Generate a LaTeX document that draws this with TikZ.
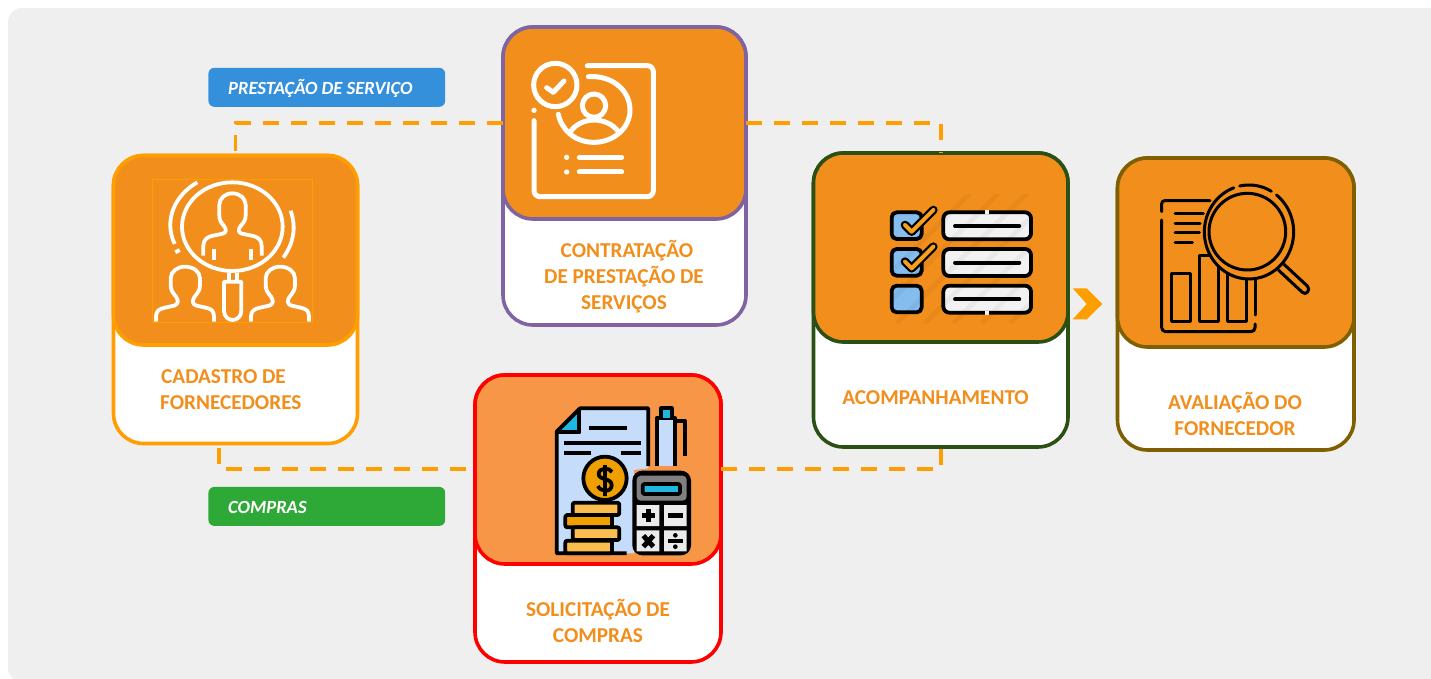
\documentclass[tikz,border=0pt]{standalone}
\usepackage{fontspec}
\setmainfont{Carlito}
\definecolor{heador}{HTML}{F28E1C}
\definecolor{headred}{HTML}{F79646}
\definecolor{linkor}{HTML}{FF9E00}
\definecolor{txtor}{HTML}{F28E1C}
\definecolor{bgc}{HTML}{EFEFEF}
\definecolor{docb}{HTML}{C5DCFB}
\definecolor{cyanx}{HTML}{1FB6DF}
\definecolor{coinA}{HTML}{EFA000}
\definecolor{coinB}{HTML}{F9BE4F}
\definecolor{purpl}{HTML}{8064A2}
\definecolor{greenl}{HTML}{2B5014}
\definecolor{brownl}{HTML}{7F6000}
\definecolor{tagblue}{HTML}{3590DC}
\definecolor{taggreen}{HTML}{2EA836}
\definecolor{boxblue}{HTML}{85BDEF}
\definecolor{checkor}{HTML}{F9A11B}
\tikzset{
 card/.style={draw=#1,fill=white,line width=3.6pt,rounded corners=30pt,inner sep=0pt,outer sep=0pt},
 head/.style={draw=#1,fill=heador,line width=3.6pt,rounded corners=30pt,inner sep=0pt,outer sep=0pt},
 capt/.style={text=txtor,font=\fontsize{21.2}{26}\selectfont\bfseries,align=center,inner sep=0pt},
 tag/.style={rounded corners=6pt,minimum width=236.8pt,minimum height=39pt,inner sep=0pt,outer sep=0pt},
 tagtext/.style={anchor=west,text=white,font=\fontsize{18.6}{20}\selectfont\bfseries\itshape,inner sep=0pt},
 linkline/.style={draw=linkor,line width=3.8pt,dash pattern=on 16pt off 12pt},
 iw/.style={draw=white,line width=#1,line cap=round,line join=round},
 ib/.style={draw=black,line width=#1,line join=round},
}
\begin{document}
\begin{tikzpicture}[x=1pt,y=-1pt]
\useasboundingbox (0,0) rectangle (1431,679);
\fill[bgc,rounded corners=14pt] (8,8) rectangle (1460,682);
\fill[bgc] (300,600) rectangle (1431,679);

% tags
\node[tag,fill=tagblue] (tagA) at (326.8,87.3) {};
\node[tagtext] (tagAt) at (228,88) {PRESTAÇÃO DE SERVIÇO};
\node[tag,fill=taggreen] (tagB) at (326.8,506.4) {};
\node[tagtext] (tagBt) at (228,507) {COMPRAS};

% cards
\node[card=linkor,minimum width=244pt,minimum height=288pt] (c1) at (235.5,299.5) {};
\node[head=linkor,minimum width=244pt,minimum height=189.5pt] (c1h) at (235.5,250.25) {};
\node[card=purpl,minimum width=243pt,minimum height=298pt] (c2) at (624.5,176) {};
\node[head=purpl,minimum width=243pt,minimum height=192pt] (c2h) at (624.5,123) {};
\node[card=red,minimum width=246pt,minimum height=287pt] (c3) at (598,518.5) {};
\node[head=red,fill=headred,minimum width=246pt,minimum height=189pt] (c3h) at (598,469.5) {};
\node[card=greenl,minimum width=254.5pt,minimum height=294pt] (c4) at (940.75,300) {};
\node[head=greenl,minimum width=254.5pt,minimum height=189pt] (c4h) at (940.75,247.5) {};
\node[card=brownl,minimum width=236.5pt,minimum height=292pt] (c5) at (1235.75,304) {};
\node[head=brownl,minimum width=236.5pt,minimum height=189pt] (c5h) at (1235.75,252.5) {};

% connectors
\draw[linkline] ([yshift=53pt]c2.west) -| (c1h.north);
\draw[linkline] ([yshift=53pt]c2.east) -| (c4h.north);
\draw[linkline,dash phase=19pt] ([yshift=49.5pt]c3.west) -| ([xshift=-16.5pt]c1.south);
\draw[linkline] ([yshift=49.5pt]c3.east) -| (c4.south);

% captions
\node[capt,align=left,anchor=west] (t1) at (160,390) {\hspace*{1pt}CADASTRO DE\\FORNECEDORES};
\node[capt] (t2) at (624,277) {\hspace*{6pt}CONTRATAÇÃO\\DE PRESTAÇÃO DE\\SERVIÇOS};
\node[capt] (t3) at (598,621) {SOLICITAÇÃO DE\\COMPRAS};
\node[capt] (t4) at (935.5,398) {ACOMPANHAMENTO};
\node[capt] (t5) at (1235,414) {AVALIAÇÃO DO\\FORNECEDOR};

% chevron
\fill[linkor] (1072.7,288.3) -- (1086.7,288.3) -- (1102.3,304) -- (1086.7,319.3) -- (1072.7,319.3) -- (1086.7,304) -- cycle;

% icon 1
\begin{scope}[shift={(100,140)},scale=1/3]
\draw[linkor,line width=1pt] (157,118) rectangle (638,548);
\draw[iw=3.8pt] (397,260) ellipse[x radius=151,y radius=133];
\draw[iw=3.8pt,line cap=butt] (310,347) -- (310,318) .. controls (310,300) and (320,292) .. (335,288) -- (368,281) .. controls (380,278) and (380,268) .. (372,258) .. controls (362,246) and (358,240) .. (358,225) -- (358,195) .. controls (358,175) and (375,160) .. (397,160) .. controls (420,160) and (437,175) .. (437,195) -- (437,225) .. controls (437,240) and (432,246) .. (422,258) .. controls (414,268) and (414,278) .. (426,281) -- (460,288) .. controls (475,292) and (485,300) .. (485,318) -- (485,347);
\draw[iw=3.8pt,line cap=butt] (342,326) -- (342,360) (454,326) -- (454,360);
\foreach \dx in {0,285}{
\begin{scope}[shift={(\dx,0)}]
\draw[iw=3.8pt,line cap=butt] (168,545) -- (168,530) .. controls (168,512) and (178,507) .. (195,503) -- (222,497) .. controls (236,493) and (236,482) .. (228,470) .. controls (216,455) and (212,450) .. (212,432) -- (212,415) .. controls (212,395) and (232,380) .. (255,380) .. controls (280,380) and (300,395) .. (300,415) -- (300,432) .. controls (300,450) and (296,455) .. (284,470) .. controls (276,482) and (276,493) .. (290,497) -- (317,503) .. controls (334,507) and (342,512) .. (342,530) -- (342,545);
\end{scope}
}
\draw[iw=3.8pt] (372,425) -- (424,425) (372,425) -- (372,512) .. controls (372,530) and (385,540) .. (398,540) .. controls (411,540) and (424,530) .. (424,512) -- (424,425);
\draw[iw=3.8pt,line cap=butt] (386,398) -- (386,422) (410,398) -- (410,422);
\draw[iw=3.8pt,line cap=butt] (292,127) .. controls (225,165) and (190,240) .. (224,312);
\draw[iw=3.8pt,line cap=butt] (226,337) -- (239,330);
\draw[iw=3.8pt,line cap=butt] (572,212) .. controls (590,265) and (580,310) .. (550,353);
\end{scope}

% icon 2
\begin{scope}[shift={(490,15)},scale=1/3]
\draw[iw=5pt] (196,210) circle[radius=65];
\draw[iw=5pt] (170,218) -- (190,232) -- (222,198);
\draw[iw=5pt,rounded corners=6pt] (292,152) -- (490,152) -- (490,545) -- (132,545) -- (132,317);
\fill[white] (132,286) circle[radius=8];
\draw[iw=5pt] (312,272) circle[radius=35];
\draw[iw=5pt] (295,185) .. controls (365,180) and (420,225) .. (420,285) .. controls (420,340) and (370,382) .. (312,382) .. controls (255,382) and (215,345) .. (205,298);
\draw[iw=5pt] (240,352) .. controls (255,328) and (285,315) .. (312,315) .. controls (340,315) and (370,328) .. (385,350);
\fill[white] (230,427) circle[radius=8] (230,471) circle[radius=8];
\draw[iw=5pt] (268,427) -- (395,427) (268,471) -- (395,471);
\end{scope}

% icon 3
\begin{scope}[shift={(530,390)},scale=1/3]
\fill[docb] (80,125) -- (150,55) -- (355,55) -- (355,235) -- (312,240) -- (312,490) -- (80,490) -- cycle;
\fill[cyanx] (85,122) -- (145,62) -- (145,122) -- cycle;
\draw[ib=3.8pt] (290,490) -- (80,490) -- (80,125) -- (150,55) -- (355,55) -- (355,228);
\draw[ib=3.8pt] (80,127) -- (148,127) -- (148,55);
\draw[ib=3.8pt] (177,115) -- (292,115) (102,160) -- (333,160) (102,190) -- (183,190) (272,190) -- (333,190);
\draw[ib=3.8pt,fill=coinA] (225,265) circle[radius=65];
\draw[ib=3.8pt] (246,246) .. controls (240,232) and (206,232) .. (206,252) .. controls (206,272) and (245,262) .. (245,286) .. controls (245,308) and (210,306) .. (204,288) (225,225) -- (225,318);
\draw[ib=3.8pt,fill=coinB,rounded corners=2pt] (128,338) rectangle (268,375);
\draw[ib=3.8pt,fill=coinA,rounded corners=2pt] (106,375) rectangle (246,412);
\draw[ib=3.8pt,fill=coinB,rounded corners=2pt] (128,412) rectangle (268,450);
\draw[ib=3.8pt,fill=coinB,rounded corners=2pt] (106,452) rectangle (246,490);
\draw[ib=3.8pt,fill=docb] (380,228) -- (380,85) -- (435,85) -- (435,228);
\draw[ib=3.8pt,fill=cyanx] (394,85) -- (394,55) -- (425,55) -- (425,85);
\draw[ib=3.8pt] (435,92) -- (465,92) -- (465,197);
\fill[black,rounded corners=10pt] (307,242) rectangle (483,496);
\fill[gray,rounded corners=4pt] (320,257) rectangle (470,332);
\draw[ib=3.8pt,fill=cyanx,rounded corners=2pt] (338,282) rectangle (450,312);
\fill[black!8] (320,345) rectangle (388,408) (402,345) rectangle (470,408) (320,421) rectangle (388,484) (402,421) rectangle (470,484);
\draw[line width=5pt] (335,377) -- (375,377) (355,357) -- (355,397);
\draw[line width=5pt] (415,377) -- (458,377);
\draw[line width=5pt] (340,437) -- (370,470) (370,437) -- (340,470);
\draw[line width=3.2pt] (415,453) -- (458,453);
\fill (436,436) circle[radius=7] (436,470) circle[radius=7];
\end{scope}

% icon 4
\begin{scope}[shift={(860,180)},scale=1/3]
\foreach \dy in {0,110,220}{
\draw[ib=3.8pt,fill=boxblue,rounded corners=5pt] (95,97+\dy) rectangle (185,177+\dy);
\draw[ib=3.8pt,fill=black!5,rounded corners=6pt] (250,97+\dy) rectangle (513,178+\dy);
\draw[ib=3.8pt,line cap=round] (285,138+\dy) -- (478,138+\dy);
}
\fill[black!5] (376,90) rectangle (388,102);
\fill[black!5] (376,392) rectangle (388,404);
\foreach \dy in {0,110}{
\draw[black,line width=8.6pt,line cap=round,line join=round] (135,135+\dy) -- (155,155+\dy) -- (220,90+\dy);
\draw[checkor,line width=4pt,line cap=round,line join=round] (135,135+\dy) -- (155,155+\dy) -- (220,90+\dy);
}
\begin{scope}
\clip (95,45) rectangle (512,430);
\foreach \k in {0,...,7}{
\draw[black,opacity=.04,line width=5pt] (\k*85-60,430) -- (\k*85+340,30);
}
\end{scope}
\end{scope}

% icon 5
\begin{scope}[shift={(1140,170)},scale=1/3,line cap=round]
\draw[ib=3pt,rounded corners=3pt] (65,125) -- (65,92) -- (210,92);
\draw[ib=3pt,rounded corners=4pt] (65,150) -- (65,485) -- (345,485) -- (345,462);
\draw[ib=3pt] (345,435) -- (345,330);
\draw[ib=3pt] (105,130) -- (190,130) (105,160) -- (180,160) (105,188) -- (178,188) (105,218) -- (157,218);
\draw[ib=3pt] (95,312) rectangle (150,455) (178,258) rectangle (235,455) (262,300) rectangle (320,455);
\fill[heador] (327,186) ellipse[x radius=137,y radius=144];
\draw[ib=3pt] (322,185) ellipse[x radius=115,y radius=115];
\draw[ib=3pt] plot[domain=-52:250,samples=70] ({327+134*cos(\x)},{186+141*sin(\x)});
\draw[ib=3pt] plot[domain=258:300,samples=20] ({327+134*cos(\x)},{186+141*sin(\x)});
\draw[ib=3pt] (432,283) -- (503,349) .. controls (512,360) and (498,378) .. (487,367) -- (415,300);
\end{scope}
\end{tikzpicture}
\end{document}
